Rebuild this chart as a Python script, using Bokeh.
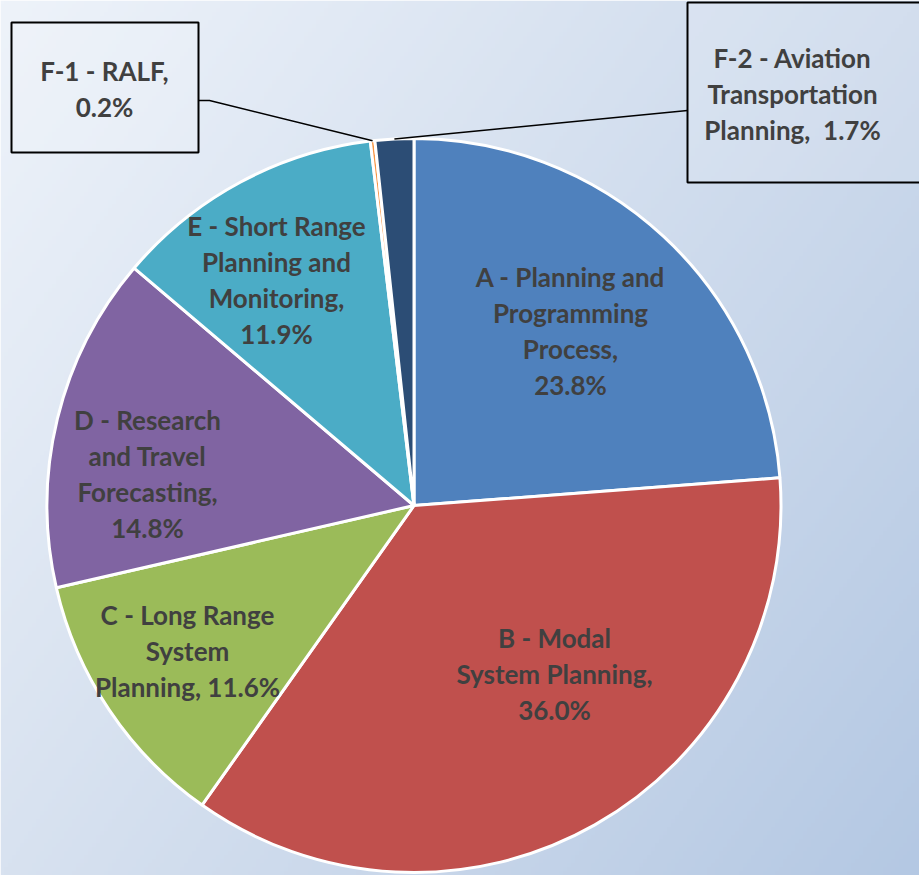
import numpy as np
from bokeh.plotting import figure
from bokeh.models import Range1d, ColumnDataSource
from bokeh.core.properties import value
from bokeh.embed import file_html
from bokeh.resources import INLINE

# ---- data ----
categories = ["A", "B", "C", "D", "E", "F-1", "F-2"]
shares = [23.8, 36.0, 11.6, 14.8, 11.9, 0.2, 1.7]
label_templates = [
    "A - Planning and\nProgramming\nProcess,\n{:.1f}%",
    "B - Modal\nSystem Planning,\n{:.1f}%",
    "C - Long Range\nSystem\nPlanning, {:.1f}%",
    "D - Research\nand Travel\nForecasting,\n{:.1f}%",
    "E - Short Range\nPlanning and\nMonitoring,\n{:.1f}%",
    "F-1 - RALF,\n{:.1f}%",
    "F-2 - Aviation\nTransportation\nPlanning,\u00a0 {:.1f}%",
]
slice_colors = ["#4f81bd", "#c0504d", "#9bbb59", "#8064a2", "#4bacc6", "#f79646", "#2c4d75"]

# ---- layout (page pixel coordinates) ----
W, H = 919, 875
OFF = 0
CX, CY, R = 413.5, 505.0, 367.0
label_pos = [(570, 330.5), (554, 673.5), (187, 650), (147, 473.5), (276, 279.5), (104, 88), (792, 93)]
LINE_H = 36
boxes = {5: (11, 22, 198, 152), 6: (687, 2, 930, 182)}
box_anchor = {5: [(198, 100), (209, 100)], 6: [(687, 110)]}

def Y(py):
    return -py

p = figure(width=W, height=H, output_backend="svg", toolbar_location=None,
           x_range=Range1d(OFF, OFF + W), y_range=Range1d(-(OFF + H), -OFF),
           min_border=0, outline_line_color=None)
p.axis.visible = False
p.grid.visible = False
p.background_fill_color = None
p.border_fill_color = None

# background gradient
gh, gw = 219, 230
tl = np.array([238, 243, 250.0]); tr = np.array([205, 218, 236.0])
bl = np.array([216, 226, 240.0]); br = np.array([180, 200, 227.0])
u = np.linspace(0, 1, gw)[None, :, None]
v = np.linspace(1, 0, gh)[:, None, None]  # row 0 = bottom
top = (1 - u) * tl + u * tr
bot = (1 - u) * bl + u * br
col = v * bot + (1 - v) * top
img = np.zeros((gh, gw), dtype=np.uint32)
view = img.view(dtype=np.uint8).reshape((gh, gw, 4))
view[:, :, 0] = col[:, :, 0].astype(np.uint8)
view[:, :, 1] = col[:, :, 1].astype(np.uint8)
view[:, :, 2] = col[:, :, 2].astype(np.uint8)
view[:, :, 3] = 255
p.image_rgba(image=[img], x=OFF, y=-(OFF + H), dw=W, dh=H)

# wedges
fr = np.array(shares) / sum(shares)
cum = np.concatenate([[0], np.cumsum(fr)])
start = np.pi / 2 - 2 * np.pi * cum[:-1]
end = np.pi / 2 - 2 * np.pi * cum[1:]
src = ColumnDataSource(dict(cat=categories, start=start, end=end, color=slice_colors))
p.wedge(x=CX, y=Y(CY), radius=R, start_angle="start", end_angle="end", direction="clock",
        fill_color="color", line_color="white", line_width=3, source=src)

# leader lines and boxes for small slices
mid = np.pi / 2 - 2 * np.pi * (cum[:-1] + cum[1:]) / 2
for i, (x0, y0, x1, y1) in boxes.items():
    p.quad(left=x0, right=x1, top=Y(y0), bottom=Y(y1), fill_color="white", fill_alpha=0.12,
           line_color="black", line_width=2)
    ex = CX + R * np.cos(mid[i])
    ey = CY - R * np.sin(mid[i])
    pts = box_anchor[i] + [(ex, ey)]
    p.line(x=[q[0] for q in pts], y=[Y(q[1]) for q in pts], line_color="black", line_width=1.5)

# labels
tx, ty, tt = [], [], []
for i, tpl in enumerate(label_templates):
    lines = tpl.format(shares[i]).split("\n")
    lx, ly = label_pos[i]
    n = len(lines)
    for k, s in enumerate(lines):
        tx.append(lx)
        ty.append(Y(ly + (k - (n - 1) / 2) * LINE_H))
        tt.append(s)
p.text(x=tx, y=ty, text=tt, text_align="center", text_baseline="middle",
       text_font=value("Lato"), text_font_style="bold", text_font_size="26px",
       text_color="#404040")

open("out.html", "w").write(file_html(p, INLINE))
